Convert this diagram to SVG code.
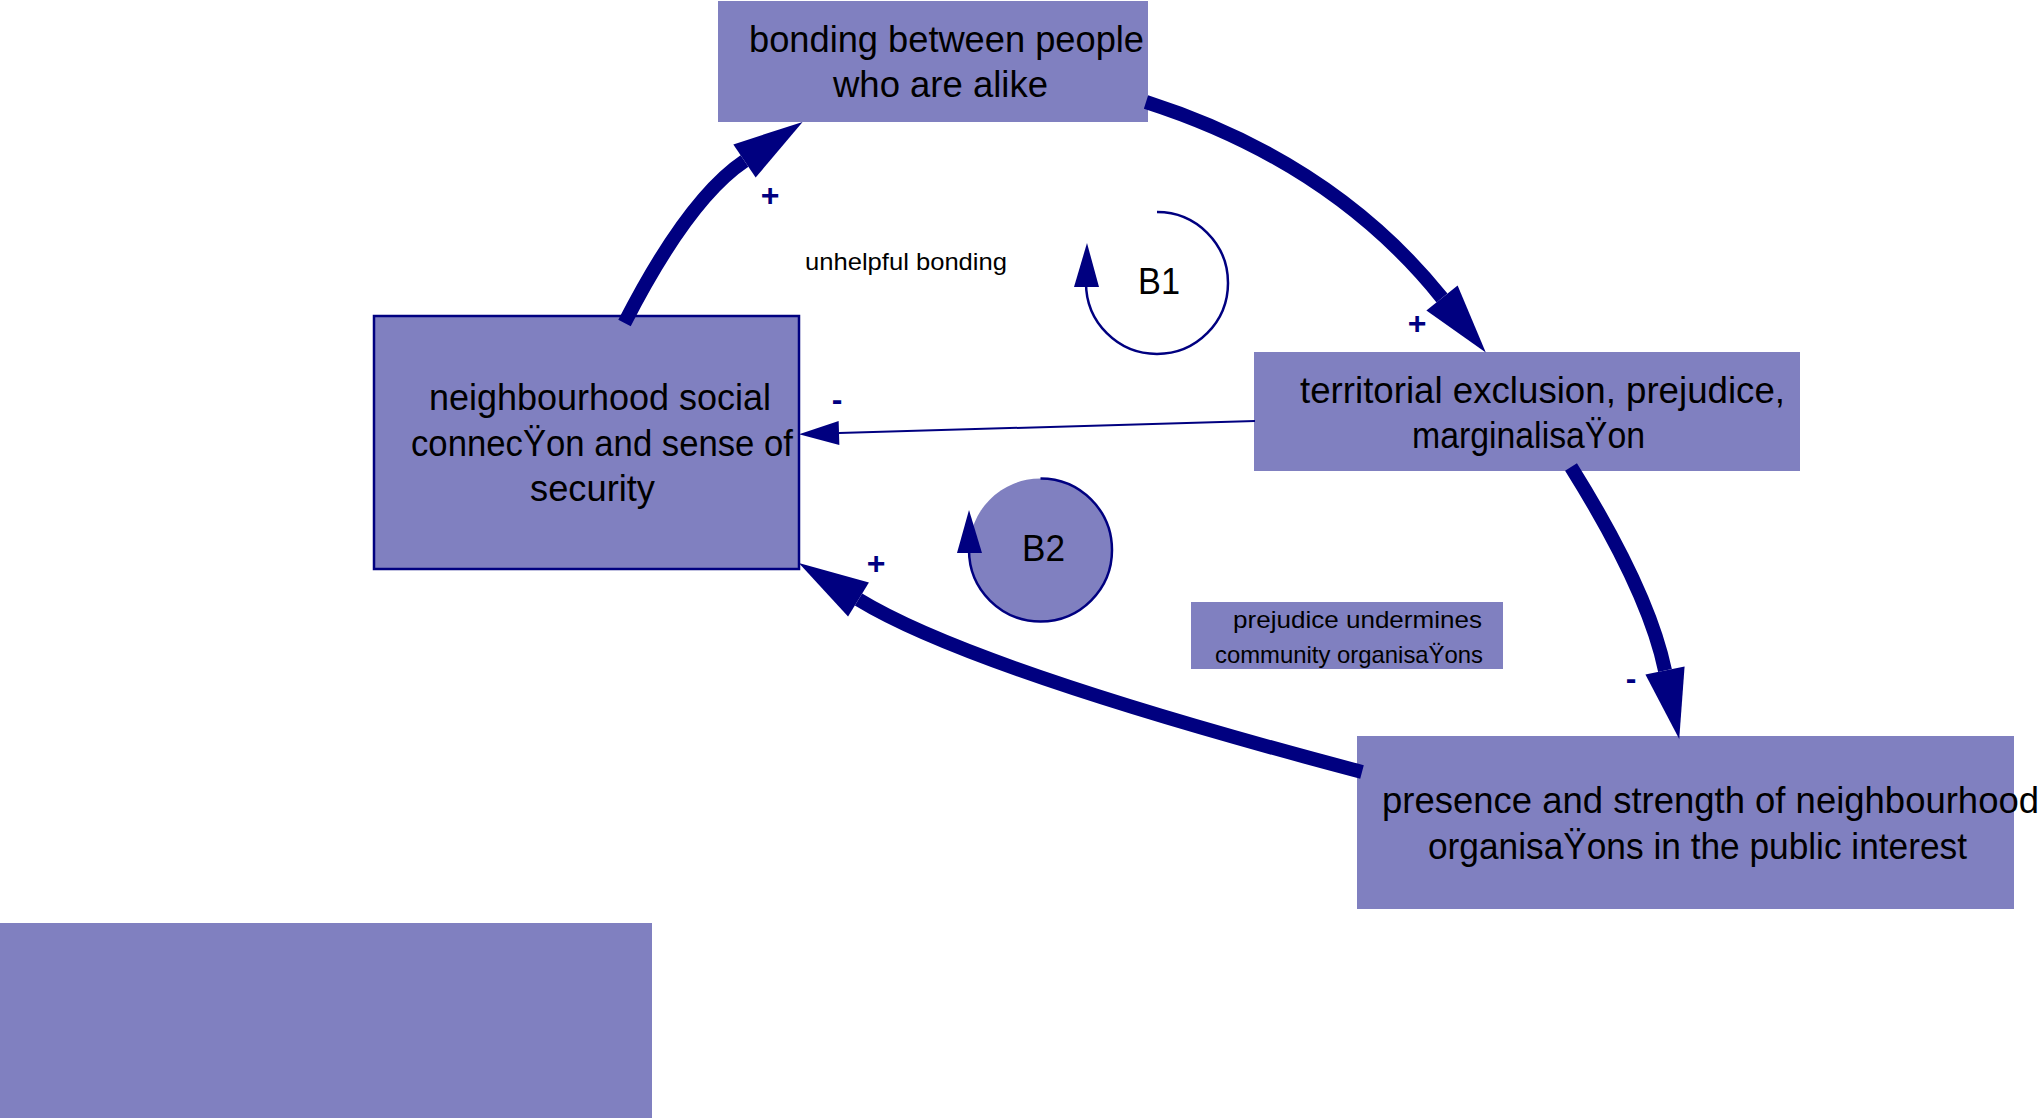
<svg xmlns="http://www.w3.org/2000/svg" width="2044" height="1118" viewBox="0 0 2044 1118">
<style>
.box{fill:#8080C0;}
.boxs{fill:#8080C0;stroke:#000080;stroke-width:2.5;}
.t{font-family:"Liberation Sans",Arial,Helvetica,sans-serif;fill:#000;}
.pol{font-family:"Liberation Sans",Arial,sans-serif;fill:#000080;font-weight:bold;text-anchor:middle;}
.thick{fill:none;stroke:#000080;stroke-width:14;stroke-linecap:butt;}
.thin{fill:none;stroke:#000080;stroke-width:2;}
.loop{fill:none;stroke:#000080;stroke-width:2.5;}
.ah{fill:#000080;}
</style>
<defs>
<marker id="bigArrow" markerUnits="userSpaceOnUse" viewBox="-1 -21 72 42" markerWidth="72" markerHeight="42" refX="0" refY="0" orient="auto" overflow="visible">
<path d="M0,-20 L70,0 L0,20 Z" fill="#000080"/>
</marker>
<marker id="smallArrow" markerUnits="userSpaceOnUse" viewBox="-1 -13 42 26" markerWidth="42" markerHeight="26" refX="0" refY="0" orient="auto" overflow="visible">
<path d="M0,-12 L40,0 L0,12 Z" fill="#000080"/>
</marker>
</defs>
<rect width="2044" height="1118" fill="#ffffff"/>

<g id="node-bonding">
<rect class="box" x="718" y="1" width="430" height="121"/>
<text class="t" font-size="36" x="749" y="52" textLength="395" lengthAdjust="spacingAndGlyphs">bonding between people</text>
<text class="t" font-size="36" x="833" y="97" textLength="215" lengthAdjust="spacingAndGlyphs">who are alike</text>
</g>

<g id="node-social-connection">
<rect class="boxs" x="374" y="316" width="425" height="253"/>
<text class="t" font-size="37" x="429" y="410" textLength="342" lengthAdjust="spacingAndGlyphs">neighbourhood social</text>
<text class="t" font-size="37" x="411" y="456" textLength="382" lengthAdjust="spacingAndGlyphs">connecŸon and sense of</text>
<text class="t" font-size="37" x="530" y="501" textLength="125" lengthAdjust="spacingAndGlyphs">security</text>
</g>

<g id="node-exclusion">
<rect class="box" x="1254" y="352" width="546" height="119"/>
<text class="t" font-size="36" x="1300" y="403" textLength="485" lengthAdjust="spacingAndGlyphs">territorial exclusion, prejudice,</text>
<text class="t" font-size="36" x="1412" y="448" textLength="233" lengthAdjust="spacingAndGlyphs">marginalisaŸon</text>
</g>

<g id="node-organisations">
<rect class="box" x="1357" y="736" width="657" height="173"/>
<text class="t" font-size="36" x="1382" y="813" textLength="657" lengthAdjust="spacingAndGlyphs">presence and strength of neighbourhood</text>
<text class="t" font-size="36" x="1428" y="859" textLength="539" lengthAdjust="spacingAndGlyphs">organisaŸons in the public interest</text>
</g>

<g id="label-prejudice">
<rect class="box" x="1191" y="602" width="312" height="67"/>
<text class="t" font-size="24" x="1233" y="628" textLength="249" lengthAdjust="spacingAndGlyphs">prejudice undermines</text>
<text class="t" font-size="24" x="1215" y="663" textLength="268" lengthAdjust="spacingAndGlyphs">community organisaŸons</text>
</g>

<g id="label-unhelpful">
<text class="t" font-size="24" x="805" y="270" textLength="202" lengthAdjust="spacingAndGlyphs">unhelpful bonding</text>
</g>

<g id="loop-B1">
<path class="loop" d="M1157,212 A71,71 0 1 1 1086,283"/>
<polygon class="ah" points="1087,243 1074,287 1099,287"/>
<text class="t" font-size="36" x="1138" y="294" textLength="42" lengthAdjust="spacingAndGlyphs">B1</text>
</g>

<g id="loop-B2">
<circle cx="1040.5" cy="550" r="71.5" fill="#8080C0"/>
<path class="loop" d="M1040.5,478.5 A71.5,71.5 0 1 1 969,550"/>
<polygon class="ah" points="969,510 957,553 982,553"/>
<text class="t" font-size="36" x="1022" y="561" textLength="43" lengthAdjust="spacingAndGlyphs">B2</text>
</g>

<g id="box-bottom-left">
<rect class="box" x="0" y="923" width="652" height="195"/>
</g>

<g id="connectors">
<path class="thick" d="M624.5,323 Q688,199 744.5,161" marker-end="url(#bigArrow)"/>
<path class="thick" d="M1146,102 Q1333,162 1442,298" marker-end="url(#bigArrow)"/>
<path class="thin" d="M1255,421 L839,433" marker-end="url(#smallArrow)"/>
<path class="thick" d="M1571,467 Q1648.5,591 1665,670.5" marker-end="url(#bigArrow)"/>
<path class="thick" d="M1362,772 Q972,669 858.5,599.5" marker-end="url(#bigArrow)"/>
<text class="pol" font-size="32" x="770" y="206">+</text>
<text class="pol" font-size="32" x="1417" y="334">+</text>
<text class="pol" font-size="32" x="876" y="574">+</text>
<text class="pol" font-size="32" x="837" y="410">-</text>
<text class="pol" font-size="32" x="1631" y="689">-</text>
</g>
</svg>
